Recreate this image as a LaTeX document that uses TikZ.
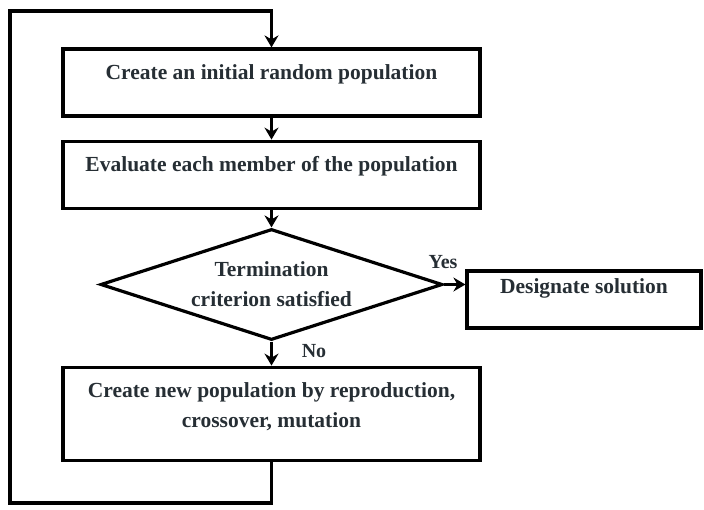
\documentclass[tikz,border=0pt]{standalone}
\usepackage{fontspec}
\setmainfont{Liberation Serif}
\usetikzlibrary{arrows.meta,positioning,shapes.geometric}
\definecolor{txt}{RGB}{38,46,52}

\begin{document}
\begin{tikzpicture}[x=1pt,y=-1pt,font=\fontsize{21.5}{30}\selectfont\bfseries,text=txt,
 >={Stealth[length=12pt,width=14pt,inset=4pt]},
 line width=3.2pt,node distance=22pt,
 box/.style={draw,rectangle,inner sep=0pt,align=center,minimum width=417pt,text height=30pt,text depth=37pt},
 dec/.style={draw,diamond,shape aspect=3,inner sep=0pt,align=center,minimum width=342pt,minimum height=111pt},
 lbl/.style={inner sep=1pt,font=\fontsize{20}{24}\selectfont\bfseries},
 e/.style={->}]
\useasboundingbox (0,0) rectangle (704,509);
\node[box] (init) at (271.5,82.5) {Create an initial random population};
\node[box,below=of init] (eval) {Evaluate each member of the population};
\node[dec] (term) at (271.5,284.5) {Termination\\criterion satisfied};
\node[box,below=24pt of term,text height=60pt,text depth=33pt] (new) {Create new population by reproduction,\\crossover, mutation};
\node[box,minimum width=234pt,text height=22pt,text depth=35pt] (sol) at (584,299.5) {Designate solution};
\node[lbl] (yes) at (443,262) {Yes};
\node[lbl] (no) at (314,351) {No};
\coordinate (bl) at (10,503);
\coordinate (tl) at (10,11);
\draw[e] (init)--(eval);
\draw[e] (eval)--(term);
\draw[e] (term.east)--(term.east -| sol.west);
\draw[e] (term)--(new);
\draw[e] (new.south) |- (bl) |- (init.north |- tl) -- (init.north);
\end{tikzpicture}
\end{document}
